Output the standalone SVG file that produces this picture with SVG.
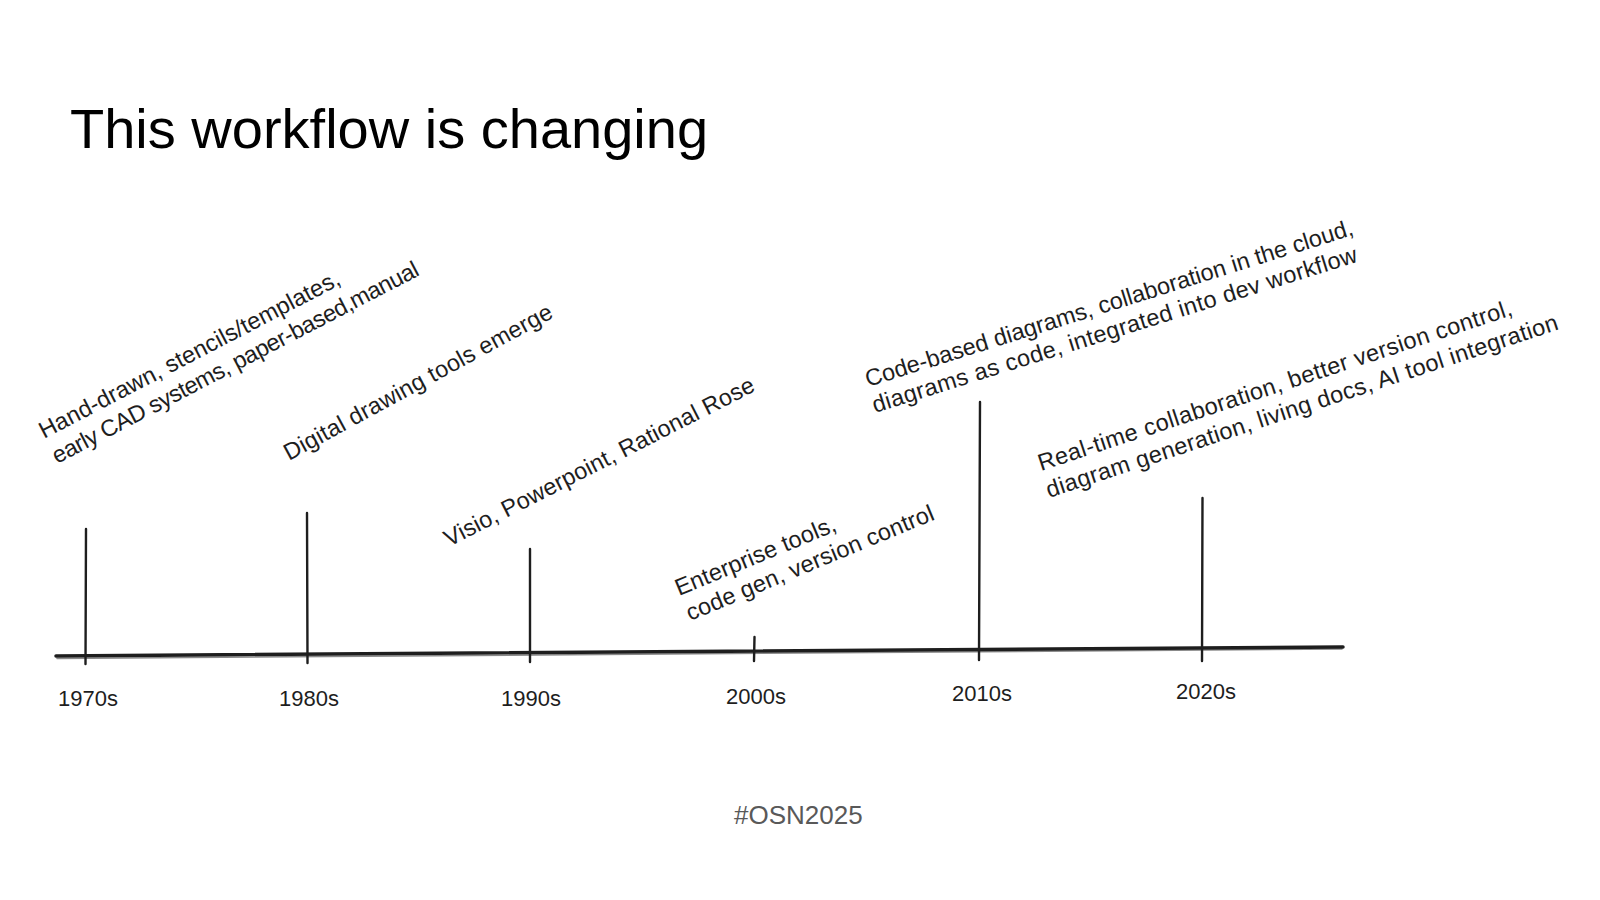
<svg xmlns="http://www.w3.org/2000/svg" width="1600" height="900" viewBox="0 0 1600 900">
<style>
.title{font-family:"Liberation Sans",Arial,sans-serif;font-size:56px;fill:#000}
.foot{font-family:"Liberation Sans",Arial,sans-serif;font-size:26px;fill:#595959}
.hand{font-family:"Liberation Sans",Arial,sans-serif;font-size:23.5px;fill:#1e1e1e}
.year{font-family:"Liberation Sans",Arial,sans-serif;font-size:22px;fill:#1e1e1e;text-anchor:middle}
.tick{stroke:#1e1e1e;stroke-width:2.4;stroke-linecap:round;fill:none}
.axis{stroke:#1e1e1e;stroke-width:3.5;stroke-linecap:round;fill:none}
.axis2{stroke:#8a8a8a;stroke-width:1.5;stroke-linecap:round;fill:none}
</style>
<rect width="1600" height="900" fill="#ffffff"/>
<text class="title" x="70" y="148">This workflow is changing</text>
<g id="connectors">
<path class="axis2" d="M57 658.5 Q700 654 1342 649"/>
<path class="axis" d="M56 656 Q700 652 1343 647"/>
</g>
<g id="era-1970s">
<path class="tick" d="M86 529 L85.5 664"/>
<text class="year" x="88" y="706">1970s</text>
<text class="hand" transform="translate(44 439) rotate(-27.5)" textLength="336">Hand-drawn, stencils/templates,</text>
<text class="hand" transform="translate(57 464) rotate(-27.5)" textLength="410">early CAD systems, paper-based,manual</text>
</g>
<g id="era-1980s">
<path class="tick" d="M307 513 L307.5 663"/>
<text class="year" x="309" y="706">1980s</text>
<text class="hand" transform="translate(289 461) rotate(-28.5)" textLength="302">Digital drawing tools emerge</text>
</g>
<g id="era-1990s">
<path class="tick" d="M530 549 L530 662"/>
<text class="year" x="531" y="706">1990s</text>
<text class="hand" transform="translate(449 547) rotate(-27)" textLength="345">Visio, Powerpoint, Rational Rose</text>
</g>
<g id="era-2000s">
<path class="tick" d="M754.5 637 L754 661"/>
<text class="year" x="756" y="704">2000s</text>
<text class="hand" transform="translate(679 596) rotate(-22.5)" textLength="172">Enterprise tools,</text>
<text class="hand" transform="translate(690 621) rotate(-22.5)" textLength="266">code gen, version control</text>
</g>
<g id="era-2010s">
<path class="tick" d="M980 402 L979 660"/>
<text class="year" x="982" y="701">2010s</text>
<text class="hand" transform="translate(868 387) rotate(-17.4)" textLength="510">Code-based diagrams, collaboration in the cloud,</text>
<text class="hand" transform="translate(875 413) rotate(-17.4)" textLength="507">diagrams as code, integrated into dev workflow</text>
</g>
<g id="era-2020s">
<path class="tick" d="M1202.5 498 L1202 661"/>
<text class="year" x="1206" y="699">2020s</text>
<text class="hand" transform="translate(1041 471) rotate(-18.3)" textLength="498">Real-time collaboration, better version control,</text>
<text class="hand" transform="translate(1049 498) rotate(-18.3)" textLength="538">diagram generation, living docs, AI tool integration</text>
</g>
<text class="foot" x="734" y="824">#OSN2025</text>
</svg>
